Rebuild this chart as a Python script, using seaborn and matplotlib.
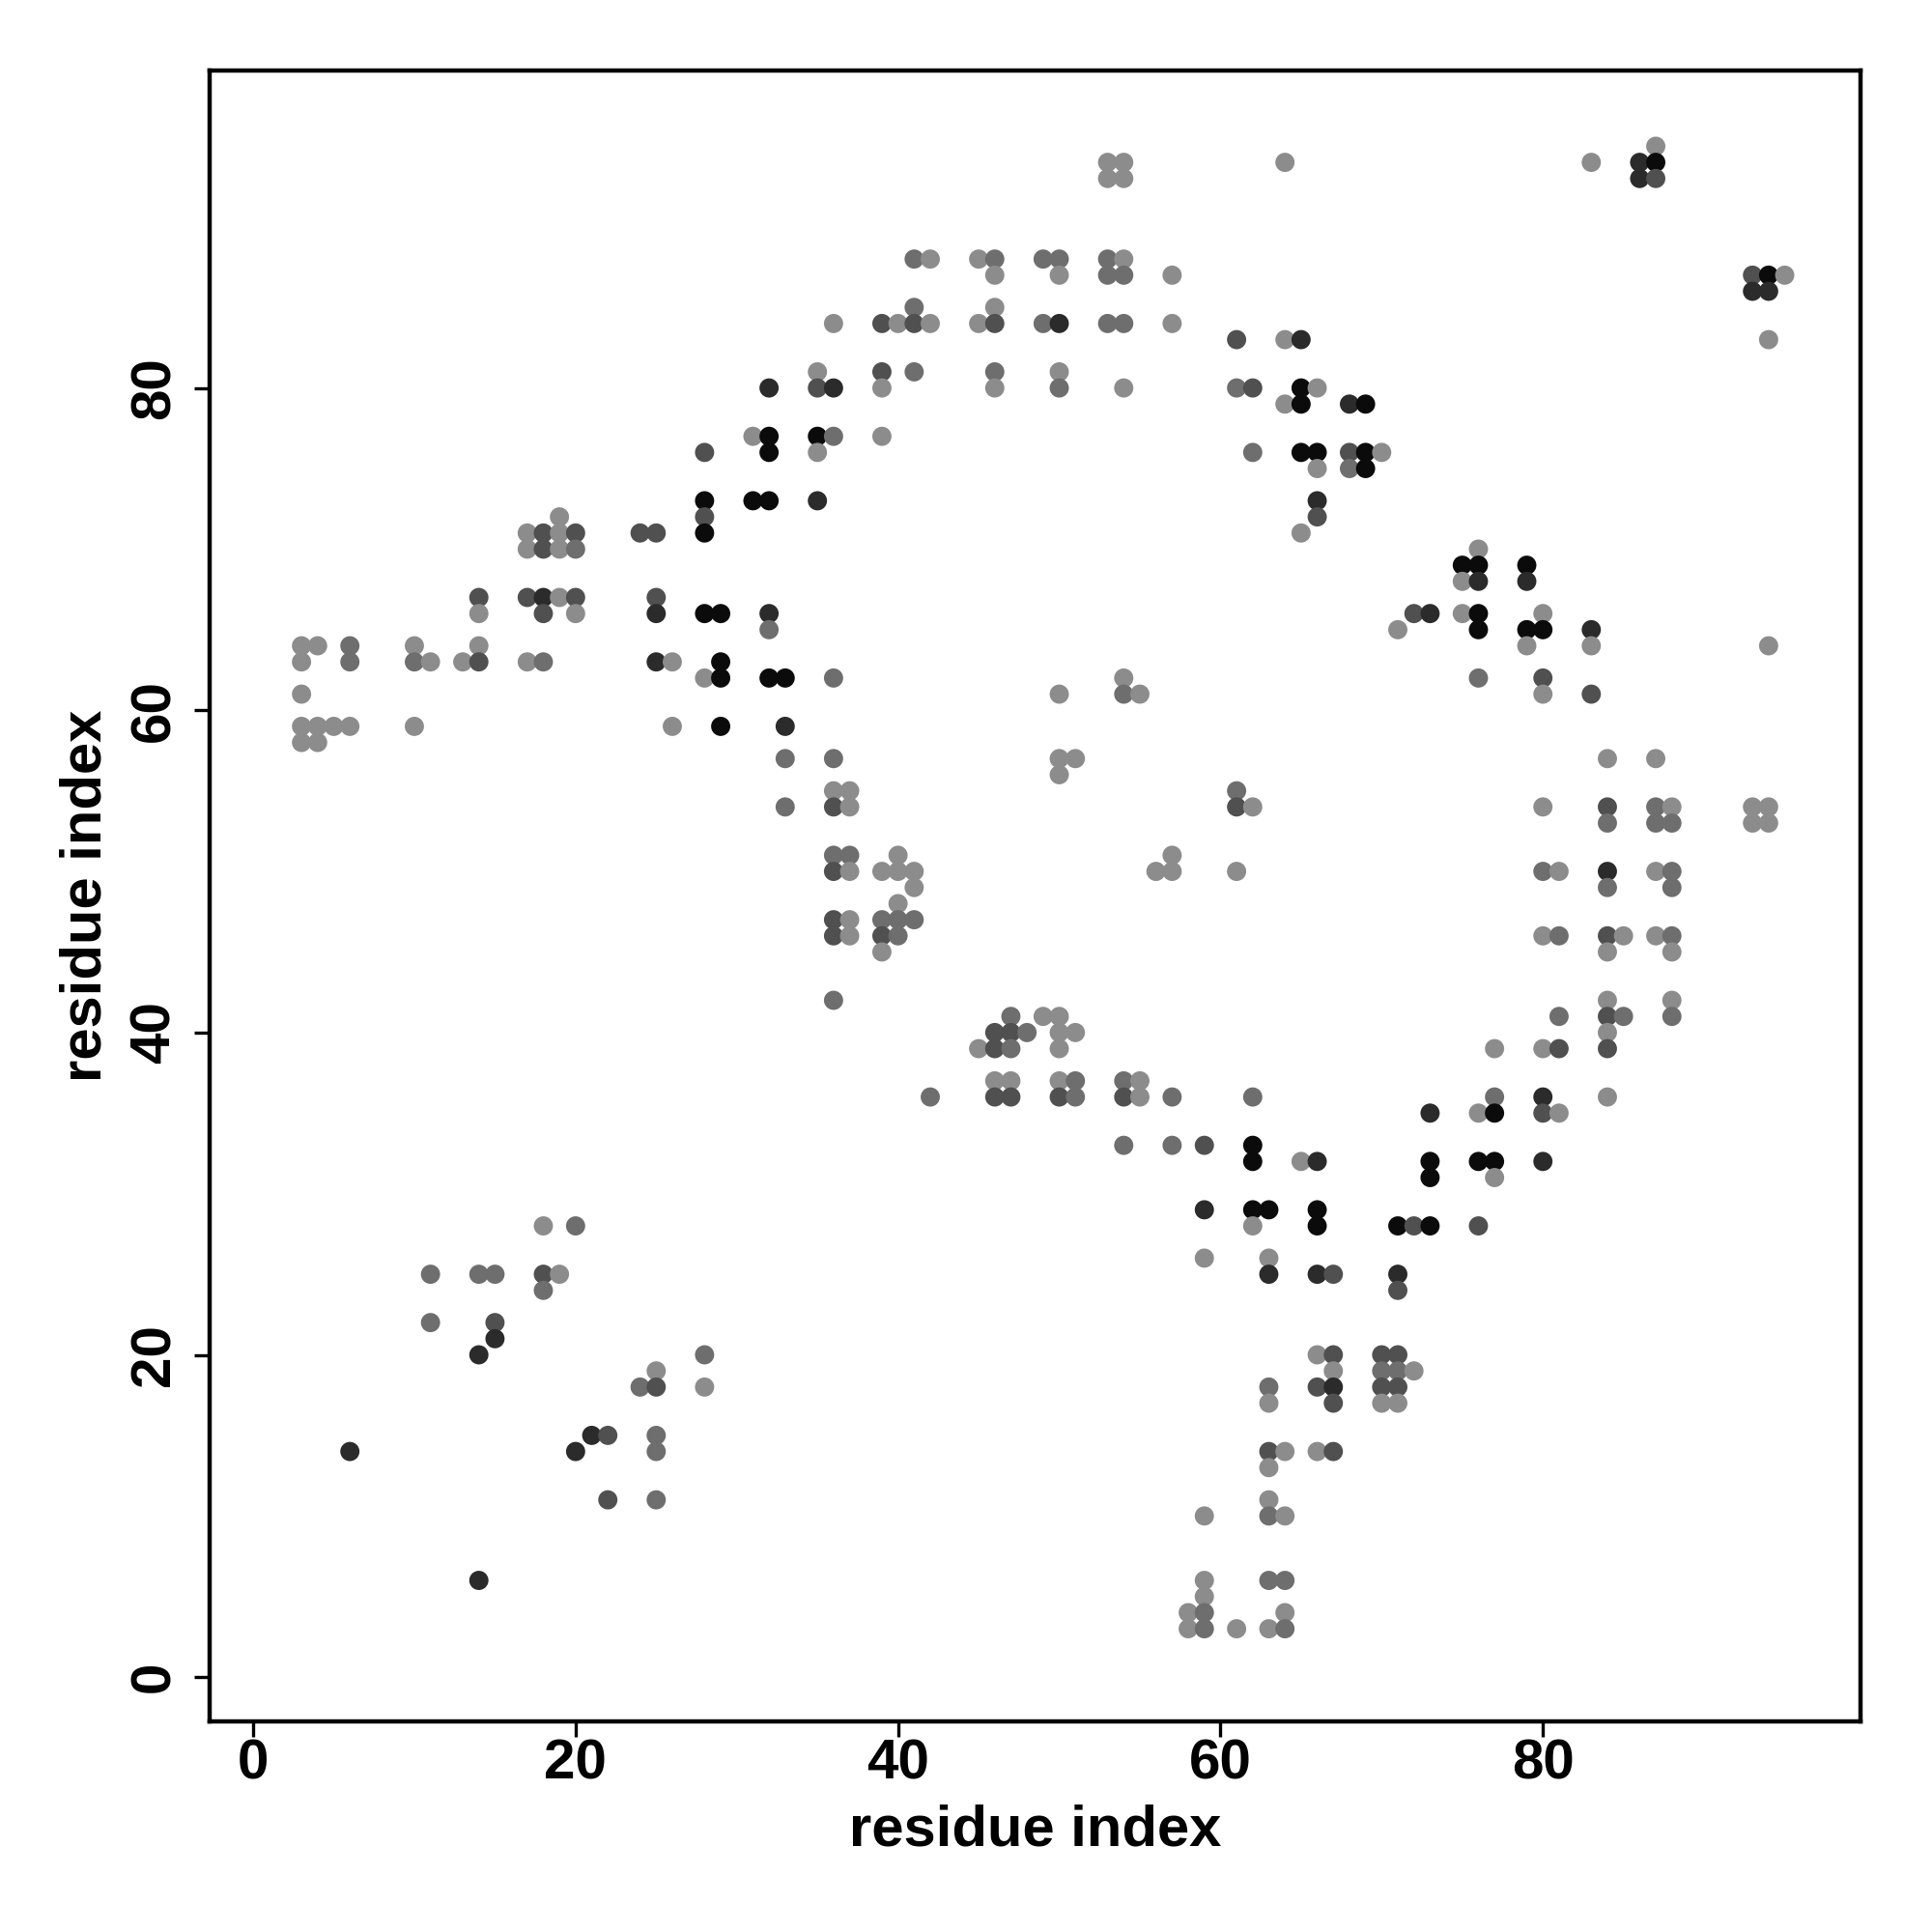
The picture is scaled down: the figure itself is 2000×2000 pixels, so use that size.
import matplotlib
matplotlib.use("Agg")
import matplotlib.pyplot as plt
import pandas as pd
import seaborn as sns

# contact rows: residue j (y), partner residues i (x) and shade level 1 (light) .. 5 (black)
row_y = [95, 94, 93, 88, 87, 86, 85, 84, 83, 81, 80, 79, 77, 76, 75, 73, 72, 71, 70,
         69, 68, 67, 66, 65, 64, 63, 62, 61, 59, 58, 57, 56, 55, 54, 53, 51, 50, 49,
         48, 47, 46, 45, 42, 41, 40, 39, 37, 36, 35, 33, 32, 31, 29, 28, 26, 25, 24,
         22, 21, 20, 19, 18, 17, 15, 14, 13, 11, 10, 6, 5, 4, 3]

row_x = [
    [87],
    [53, 54, 64, 83, 86, 87],
    [53, 54, 86, 87],
    [41, 42, 45, 46, 49, 50, 53, 54],
    [46, 50, 53, 54, 57, 93, 94, 95],
    [93, 94],
    [41, 46],
    [36, 39, 40, 41, 42, 45, 46, 49, 50, 53, 54, 57],
    [61, 64, 65, 94],
    [35, 39, 41, 46, 50],
    [32, 35, 36, 39, 46, 50, 54, 61, 62, 65, 66],
    [64, 65, 68, 69],
    [31, 32, 35, 36, 39],
    [28, 32, 35, 62, 65, 66, 68, 69, 70],
    [66, 68, 69],
    [28, 31, 32, 35, 66],
    [19, 28, 66],
    [17, 18, 19, 20, 24, 25, 28, 65],
    [17, 18, 19, 20, 76],
    [75, 76, 79],
    [75, 76, 79],
    [14, 17, 18, 19, 20, 25],
    [14, 18, 20, 25, 28, 29, 32, 72, 73, 75, 76, 80],
    [32, 71, 76, 79, 80, 83],
    [3, 4, 6, 10, 14, 79, 83, 94],
    [3, 6, 10, 11, 13, 14, 17, 18, 25, 26, 29],
    [28, 29, 32, 33, 36, 54, 76, 80],
    [3, 50, 54, 55, 80, 83],
    [3, 4, 5, 6, 10, 26, 29, 33],
    [3, 4],
    [33, 36, 50, 51, 84, 87],
    [50],
    [36, 37, 61],
    [33, 36, 37, 61, 62, 80, 84, 87, 88, 93, 94],
    [84, 87, 88, 93, 94],
    [36, 37, 40, 57],
    [36, 37, 39, 40, 41, 56, 57, 61, 80, 81, 84, 87, 88],
    [41, 84, 88],
    [40],
    [36, 37, 39, 40, 41],
    [36, 37, 39, 40, 80, 81, 84, 85, 87, 88],
    [39, 84, 88],
    [36, 84, 88],
    [47, 49, 50, 81, 84, 85, 88],
    [46, 47, 48, 50, 51, 84],
    [45, 46, 47, 50, 77, 80, 81, 84],
    [46, 47, 50, 51, 54, 55],
    [42, 46, 47, 50, 51, 54, 55, 57, 62, 77, 80, 84],
    [73, 76, 77, 80, 81],
    [54, 57, 59, 62],
    [62, 65, 66, 73, 76, 77, 80],
    [73, 77],
    [59, 62, 63, 66],
    [18, 20, 62, 66, 71, 72, 73, 76],
    [59, 63],
    [11, 14, 15, 18, 19, 63, 66, 67, 71],
    [18, 71],
    [11, 15],
    [15],
    [14, 28, 66, 67, 70, 71],
    [25, 67, 70, 71, 72],
    [24, 25, 28, 63, 66, 67, 70, 71],
    [63, 67, 70, 71],
    [21, 22, 25],
    [6, 20, 25, 63, 64, 66, 67],
    [63],
    [22, 25, 63],
    [59, 63, 64],
    [14, 59, 63, 64],
    [59],
    [58, 59, 64],
    [58, 59, 61, 63, 64],
]

row_shade = [
    [1],
    [1, 1, 1, 1, 4, 5],
    [1, 1, 4, 3],
    [2, 1, 1, 2, 2, 2, 2, 1],
    [1, 1, 2, 2, 1, 3, 5, 1],
    [4, 4],
    [2, 1],
    [1, 3, 1, 3, 1, 1, 3, 2, 4, 2, 2, 1],
    [3, 1, 4, 1],
    [1, 3, 2, 2, 1],
    [4, 3, 4, 1, 1, 2, 1, 2, 3, 5, 1],
    [1, 5, 4, 5],
    [1, 5, 5, 2, 1],
    [3, 5, 1, 2, 5, 5, 3, 5, 1],
    [1, 2, 5],
    [5, 5, 5, 4, 4],
    [1, 3, 3],
    [1, 3, 1, 3, 3, 3, 5, 1],
    [1, 3, 1, 2, 1],
    [5, 5, 5],
    [1, 4, 4],
    [3, 3, 4, 1, 3, 3],
    [1, 3, 1, 4, 5, 5, 4, 3, 4, 1, 5, 1],
    [2, 1, 5, 5, 5, 4],
    [1, 1, 2, 1, 1, 1, 1, 1],
    [1, 2, 2, 1, 1, 3, 1, 2, 4, 1, 5],
    [1, 5, 5, 5, 2, 1, 2, 3],
    [1, 1, 2, 1, 1, 3],
    [1, 1, 1, 1, 1, 1, 5, 4],
    [1, 1],
    [2, 2, 1, 1, 1, 1],
    [1],
    [1, 1, 2],
    [2, 3, 1, 3, 1, 1, 3, 2, 1, 1, 1],
    [2, 2, 2, 1, 1],
    [2, 2, 1, 1],
    [3, 1, 1, 1, 1, 1, 1, 1, 2, 1, 4, 1, 2],
    [1, 2, 2],
    [1],
    [3, 1, 2, 2, 2],
    [3, 1, 3, 2, 1, 2, 3, 1, 1, 2],
    [1, 1, 1],
    [2, 1, 1],
    [2, 1, 1, 2, 3, 2, 2],
    [3, 3, 2, 1, 1, 1],
    [1, 3, 2, 1, 1, 1, 3, 3],
    [1, 1, 1, 2, 2, 1],
    [2, 3, 3, 3, 2, 3, 1, 2, 2, 2, 4, 1],
    [4, 1, 5, 3, 1],
    [2, 2, 3, 5],
    [5, 1, 4, 5, 5, 5, 4],
    [5, 1],
    [4, 5, 5, 5],
    [1, 2, 1, 5, 5, 3, 5, 3],
    [1, 1],
    [2, 2, 2, 3, 1, 4, 4, 3, 4],
    [2, 3],
    [2, 3],
    [4],
    [4, 2, 1, 3, 3, 3],
    [1, 1, 2, 2, 1],
    [2, 3, 1, 2, 3, 4, 3, 3],
    [1, 3, 1, 1],
    [4, 3, 2],
    [4, 4, 2, 3, 1, 1, 3],
    [1],
    [3, 2, 1],
    [1, 2, 1],
    [4, 1, 2, 2],
    [1],
    [1, 2, 1],
    [1, 2, 1, 1, 2],
]

ticks = [0, 20, 40, 60, 80]

recs = []
for y, xs, ss in zip(row_y, row_x, row_shade):
    for x, s in zip(xs, ss):
        recs.append((x, y, s))
df = pd.DataFrame(recs, columns=["i", "j", "shade"])

greys = {1: "#8c8c8c", 2: "#6e6e6e", 3: "#505050", 4: "#2b2b2b", 5: "#0b0b0b"}

sns.set_theme(style="ticks")
plt.rcParams["font.family"] = ["Liberation Sans", "DejaVu Sans"]
plt.rcParams["font.weight"] = "bold"
plt.rcParams["text.color"] = "black"
plt.rcParams["axes.labelcolor"] = "black"
plt.rcParams["xtick.color"] = "black"
plt.rcParams["ytick.color"] = "black"

fig = plt.figure(figsize=(20, 20), dpi=100)
ax = fig.add_axes([0.1085, 0.109, 0.8545, 0.8545])

sns.scatterplot(data=df, x="i", y="j", hue="shade", palette=greys, s=205,
                linewidth=0, legend=False, ax=ax)

ax.set_xlim(-2.7, 99.7)
ax.set_ylim(-2.75, 99.7)
ax.set_xticks(ticks)
ax.set_yticks(ticks)
ax.set_yticklabels([str(t) for t in ticks], rotation=90, va="center")

for sp in ax.spines.values():
    sp.set_visible(True)
    sp.set_color("black")
    sp.set_linewidth(3.2)

ax.tick_params(axis="both", length=11.5, width=2.4, colors="black", labelsize=42)
ax.tick_params(axis="x", pad=1)
ax.tick_params(axis="y", pad=10)

ax.set_xlabel("residue index", fontsize=43, fontweight="bold", color="black", labelpad=10)
ax.set_ylabel("residue index", fontsize=43, fontweight="bold", color="black", labelpad=12)

fig.savefig("out.png", dpi=100, facecolor="white")
